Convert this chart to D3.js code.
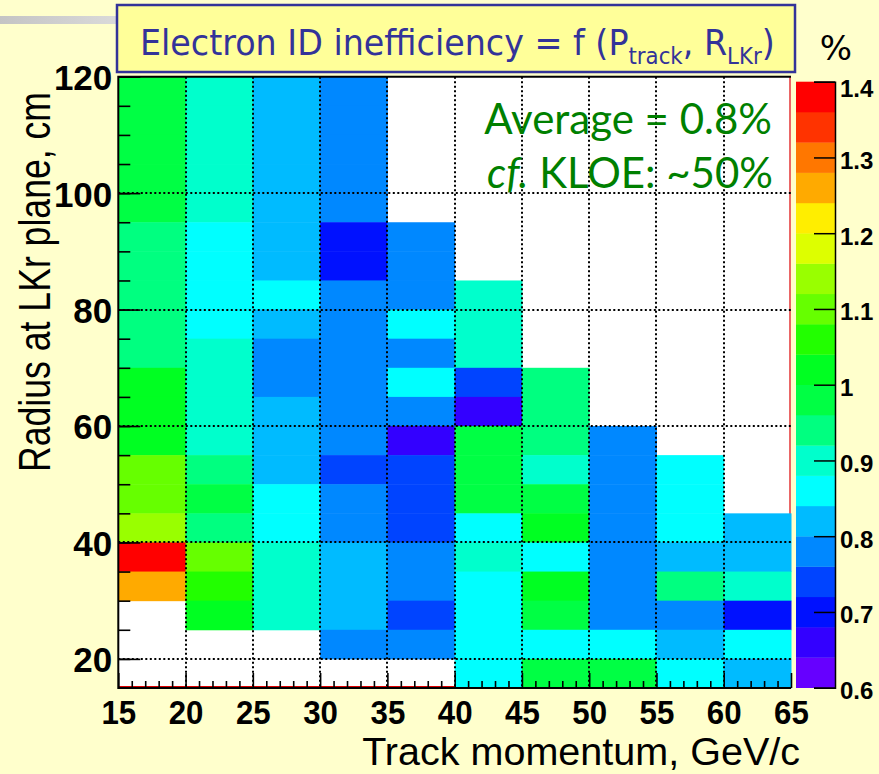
<!DOCTYPE html>
<html>
<head>
<meta charset="utf-8">
<script src="https://cdn.jsdelivr.net/npm/d3@7"></script>
<style>
  html, body { margin: 0; padding: 0; background: #ffffcc; }
  svg { display: block; }
</style>
</head>
<body>
<svg id="chart" width="879" height="774"></svg>
<script>
// ---------------- DATA ----------------
const xEdges = [15, 20, 25, 30, 35, 40, 45, 50, 55, 60, 65];          // Track momentum, GeV/c
const yEdges = [120, 115, 110, 105, 100, 95, 90, 85, 80, 75, 70, 65, 60, 55, 50, 45, 40, 35, 30, 25, 20, 15]; // Radius, cm
// inefficiency (%) rows from top (115-120 cm) to bottom (15-20 cm), columns 15-20 ... 60-65 GeV/c
const inefficiency = [
  [0.98, 0.90, 0.82, 0.78, null, null, null, null, null, null],
  [0.98, 0.90, 0.82, 0.78, null, null, null, null, null, null],
  [0.98, 0.90, 0.82, 0.78, null, null, null, null, null, null],
  [0.98, 0.90, 0.82, 0.78, null, null, null, null, null, null],
  [0.98, 0.90, 0.82, 0.78, null, null, null, null, null, null],
  [0.94, 0.86, 0.82, 0.70, 0.78, null, null, null, null, null],
  [0.94, 0.86, 0.82, 0.70, 0.78, null, null, null, null, null],
  [0.94, 0.86, 0.86, 0.78, 0.78, 0.90, null, null, null, null],
  [0.94, 0.86, 0.82, 0.78, 0.86, 0.90, null, null, null, null],
  [0.94, 0.90, 0.78, 0.78, 0.78, 0.90, null, null, null, null],
  [1.02, 0.90, 0.78, 0.78, 0.86, 0.74, 0.94, null, null, null],
  [1.02, 0.90, 0.82, 0.78, 0.78, 0.66, 0.94, null, null, null],
  [1.02, 0.90, 0.82, 0.78, 0.66, 0.98, 0.94, 0.78, null, null],
  [1.10, 0.94, 0.82, 0.74, 0.74, 0.98, 0.90, 0.78, 0.86, null],
  [1.10, 0.98, 0.86, 0.78, 0.74, 0.98, 0.98, 0.78, 0.86, null],
  [1.14, 0.94, 0.86, 0.78, 0.74, 0.86, 1.02, 0.78, 0.86, 0.82],
  [1.38, 1.10, 0.90, 0.82, 0.78, 0.90, 0.86, 0.78, 0.82, 0.82],
  [1.26, 1.06, 0.90, 0.82, 0.78, 0.86, 1.02, 0.78, 0.94, 0.90],
  [null, 1.02, 0.90, 0.82, 0.74, 0.86, 0.98, 0.78, 0.78, 0.70],
  [null, null, null, 0.78, 0.78, 0.86, 0.86, 0.86, 0.82, 0.86],
  [null, null, null, null, null, 0.86, 0.98, 0.98, 0.86, 0.82]
];
const xTickLabels = [15, 20, 25, 30, 35, 40, 45, 50, 55, 60, 65];
const yTickLabels = [20, 40, 60, 80, 100, 120];
const zRange = [0.6, 1.4];
const zTickLabels = [0.6, 0.7, 0.8, 0.9, 1.0, 1.1, 1.2, 1.3, 1.4];
const palette = ["#6600ff", "#3300ff", "#0011ff", "#0044ff", "#0088ff", "#00bbff", "#00ffff", "#00ffcc", "#00ff80", "#00ff44",
                 "#00ff22", "#22ff00", "#66ff00", "#99ff00", "#ddff00", "#ffee00", "#ffaa00", "#ff7700", "#ff3300", "#ff0000"];
const titleText = "Electron ID inefficiency = f (P";
const xTitle = "Track momentum, GeV/c";
const yTitle = "Radius at LKr plane, cm";

// ---------------- LAYOUT ----------------
const svg = d3.select("#chart");
const plot = { left: 118.3, right: 791, top: 76.7, bottom: 688 };
const x = d3.scaleLinear().domain([15, 65]).range([plot.left, plot.right]);
const y = d3.scaleLinear().domain([15, 120]).range([plot.bottom, plot.top]);
const color = d3.scaleQuantize().domain(zRange).range(palette);
const cbar = { left: 796, right: 835 };
const zc = d3.scaleLinear().domain(zRange).range([687.7, 81.7]);

// background
svg.append("rect").attr("width", 879).attr("height", 774).attr("fill", "#ffffcc");
const grad = svg.append("defs").append("linearGradient").attr("id", "gbar");
grad.append("stop").attr("offset", "0%").attr("stop-color", "#c4c4c4");
grad.append("stop").attr("offset", "100%").attr("stop-color", "#dcdcdc");
svg.append("rect").attr("x", 0).attr("y", 16).attr("width", 130).attr("height", 8).attr("fill", "url(#gbar)");

// title box
svg.append("rect").attr("x", 117).attr("y", 5).attr("width", 678).attr("height", 67)
  .attr("fill", "#ffff99").attr("stroke", "#333399").attr("stroke-width", 2.5);

function fitScale(textSel, target) {
  const w = textSel.node().getBBox().width;
  return target / w;
}

const tg = svg.append("g");
const tt = tg.append("text").attr("x", 0).attr("y", 0)
  .attr("font-family", "DejaVu Sans, Verdana, sans-serif").attr("font-size", 36).attr("fill", "#333399");
tt.append("tspan").text(titleText);
tt.append("tspan").attr("font-size", 23).attr("dy", 9).text("track");
tt.append("tspan").attr("font-size", 36).attr("dy", -9).text(", R");
tt.append("tspan").attr("font-size", 23).attr("dy", 9).text("LKr");
tt.append("tspan").attr("font-size", 36).attr("dy", -9).text(")");
tg.attr("transform", `translate(140,55) scale(${fitScale(tt, 635)},1)`);

// plot background (empty bins are white)
svg.append("rect").attr("x", plot.left).attr("y", plot.top)
  .attr("width", plot.right - plot.left).attr("height", plot.bottom - plot.top).attr("fill", "#ffffff");

// red underlying frame lines (visible only under empty cells)
svg.append("line").attr("x1", plot.right - 1).attr("x2", plot.right - 1).attr("y1", plot.top).attr("y2", plot.bottom)
  .attr("stroke", "#dd0000").attr("stroke-width", 1.2);
svg.append("line").attr("x1", plot.left).attr("x2", plot.right).attr("y1", plot.bottom - 1.5).attr("y2", plot.bottom - 1.5)
  .attr("stroke", "#dd0000").attr("stroke-width", 1.2);

// cells
const cells = [];
inefficiency.forEach((row, i) => {
  row.forEach((v, j) => {
    if (v !== null) cells.push({ x0: xEdges[j], x1: xEdges[j + 1], y1: yEdges[i], y0: yEdges[i + 1], v });
  });
});
svg.append("g").selectAll("rect").data(cells).join("rect")
  .attr("x", d => x(d.x0))
  .attr("y", d => y(d.y1))
  .attr("width", d => x(d.x1) - x(d.x0) + 0.5)
  .attr("height", d => y(d.y0) - y(d.y1) + 0.5)
  .attr("fill", d => color(d.v));

// gridlines (dotted)
const grid = svg.append("g");
grid.selectAll("line.gx").data(xTickLabels.slice(1, -1)).join("line").attr("class", "gx")
  .attr("x1", d => Math.round(x(d))).attr("x2", d => Math.round(x(d)))
  .attr("y1", plot.top).attr("y2", plot.bottom);
grid.selectAll("line.gy").data(yTickLabels.slice(0, -1)).join("line").attr("class", "gy")
  .attr("x1", plot.left).attr("x2", plot.right)
  .attr("y1", d => Math.round(y(d))).attr("y2", d => Math.round(y(d)));
grid.selectAll("line").attr("stroke", "#000").attr("stroke-width", 2)
  .attr("stroke-dasharray", "2,2.5");

// frame
svg.append("path").attr("d", `M${plot.right},${plot.top}H${plot.left}V${plot.bottom}H${plot.right}`)
  .attr("fill", "none").attr("stroke", "#000").attr("stroke-width", 2);

// axes
const tickFont = "Liberation Sans, Arial, sans-serif";
const yMinor = svg.append("g").attr("transform", `translate(${plot.left},0)`)
  .call(d3.axisLeft(y).tickValues(yEdges.slice(0, -1)).tickSize(-12).tickFormat(""));
const yMajor = svg.append("g").attr("transform", `translate(${plot.left},0)`)
  .call(d3.axisLeft(y).tickValues(yTickLabels).tickSize(-22).tickPadding(8));
const xMinorVals = d3.range(16, 65).filter(v => v % 5 !== 0);
const xMinor = svg.append("g").attr("transform", `translate(0,${plot.bottom})`)
  .call(d3.axisBottom(x).tickValues(xMinorVals).tickSize(-7).tickFormat(""));
const xMajor = svg.append("g").attr("transform", `translate(0,${plot.bottom})`)
  .call(d3.axisBottom(x).tickValues(xTickLabels).tickSize(-15).tickPadding(14));
[yMinor, yMajor, xMinor, xMajor].forEach(g => {
  g.select(".domain").remove();
  g.selectAll(".tick line").attr("stroke", "#000").attr("stroke-width", 1.6);
});
yMinor.selectAll(".tick text").remove();
xMinor.selectAll(".tick text").remove();
yMajor.selectAll(".tick text").attr("font-family", tickFont).attr("font-weight", "bold")
  .attr("font-size", 35).attr("fill", "#000").attr("x", -6).attr("dy", "0.37em");
xMajor.selectAll(".tick text").attr("font-family", tickFont).attr("font-weight", "bold")
  .attr("font-size", 34).attr("fill", "#000").attr("y", 0).attr("dy", 36)
  .attr("transform", "scale(0.92,1)");

// colour bar
const bands = palette.map(c => { const [a, b] = color.invertExtent(c); return { c, a, b }; });
svg.append("g").selectAll("rect").data(bands).join("rect")
  .attr("x", cbar.left).attr("width", cbar.right - cbar.left)
  .attr("y", d => zc(d.b)).attr("height", d => zc(d.a) - zc(d.b) + 0.3)
  .attr("fill", d => d.c);
const zAxis = svg.append("g").attr("transform", `translate(${cbar.right},0)`)
  .call(d3.axisRight(zc).tickValues(zTickLabels).tickSize(-21).tickPadding(5).tickFormat(d3.format("")));
zAxis.select(".domain").attr("stroke", "#000").attr("stroke-width", 1.5);
zAxis.selectAll(".tick line").attr("stroke", "#000").attr("stroke-width", 1.5);
zAxis.selectAll(".tick text").attr("font-family", tickFont).attr("font-weight", "bold")
  .attr("font-size", 24).attr("fill", "#000").attr("x", 5)
  .attr("dy", d => d === 1.4 ? 15 : 11);

// % label
svg.append("text").attr("x", 836).attr("y", 60).attr("text-anchor", "middle")
  .attr("font-family", "DejaVu Sans, Verdana, sans-serif").attr("font-size", 34).attr("fill", "#000").text("%");

// axis titles
const xtg = svg.append("g");
const xtt = xtg.append("text").attr("text-anchor", "end").attr("font-family", tickFont)
  .attr("font-size", 38).attr("fill", "#000").text(xTitle);
xtg.attr("transform", `translate(800,765) scale(${fitScale(xtt, 438)},1)`);

const ytg = svg.append("g");
const ytt = ytg.append("text").attr("text-anchor", "middle").attr("font-family", tickFont)
  .attr("font-size", 44).attr("fill", "#000").text(yTitle);
ytg.attr("transform", `translate(50,282) rotate(-90) scale(${fitScale(ytt, 380)},1)`);

// annotations
const ann = svg.append("g").attr("font-family", "Comic Sans MS, Lato, sans-serif").attr("fill", "#008000")
  .attr("font-size", 42).attr("text-anchor", "end");
ann.append("text").attr("x", 772).attr("y", 134).text("Average = 0.8%");
const l2 = ann.append("text").attr("x", 773).attr("y", 188);
l2.append("tspan").attr("font-style", "italic").text("cf.");
l2.append("tspan").text(" KLOE: ~50%");
</script>
</body>
</html>
